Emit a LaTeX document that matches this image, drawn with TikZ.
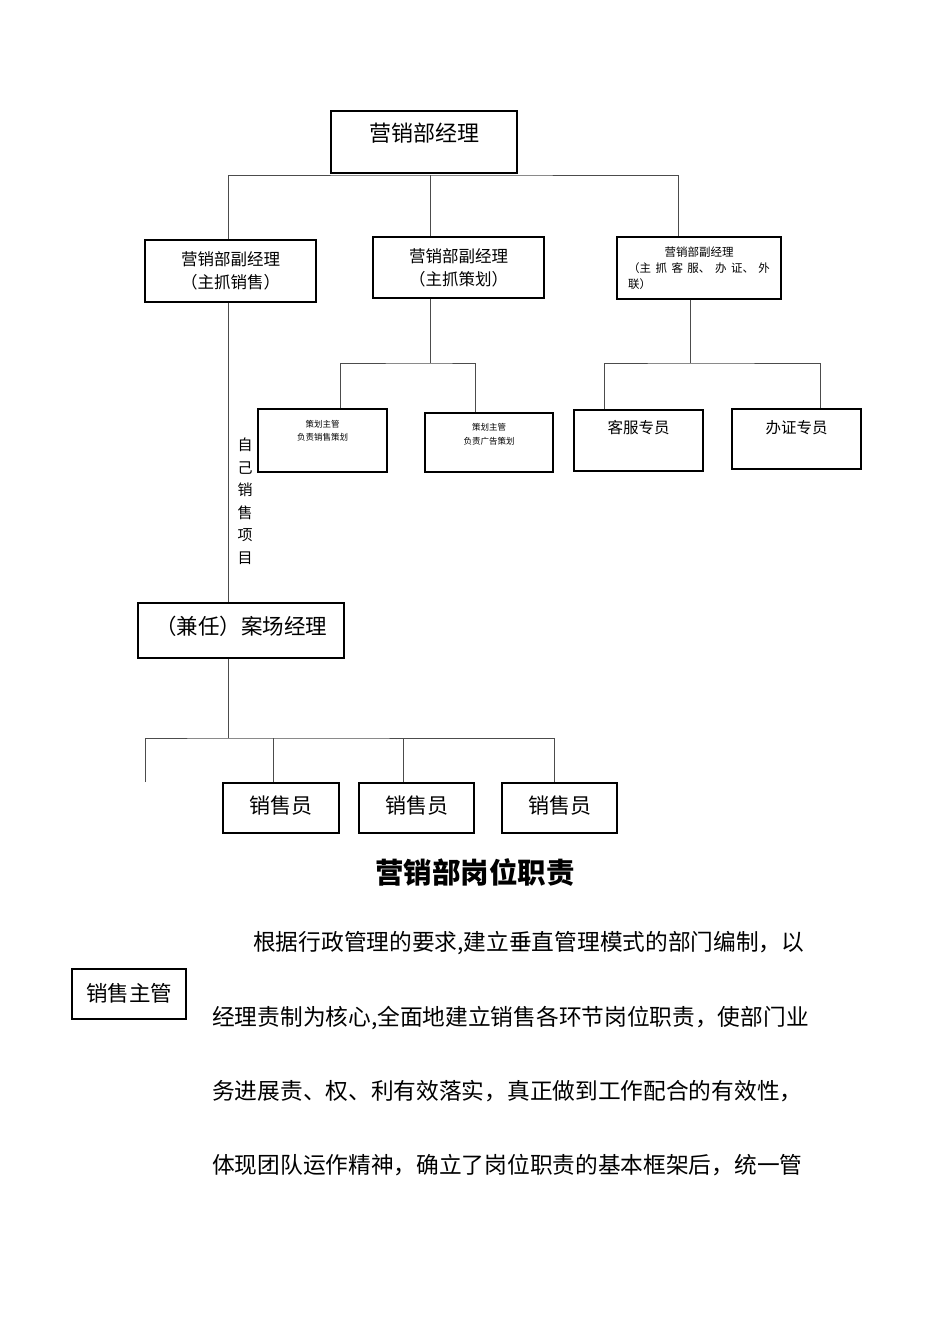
\documentclass[tikz,border=0pt]{standalone}
\usepackage{fontspec}
\setmainfont{Noto Sans CJK SC}
\usetikzlibrary{positioning}
\XeTeXlinebreaklocale "zh"
\XeTeXlinebreakskip=0pt plus 3pt minus 1pt
\newcommand\fsz[2]{\fontsize{#1}{#2}\selectfont}
\tikzset{
    box/.style={rectangle, draw, line width=1.2pt, inner sep=0pt, align=center},
    link/.style={draw=black!70, line width=0.8pt},
    bodyline/.style={anchor=base west, inner sep=0pt, font=\fsz{22.7}{27}}
}
\begin{document}
\begin{tikzpicture}[x=1pt, y=-1pt]
\useasboundingbox (0,0) rectangle (950,1344);

% Manager
\node[box, minimum width=186pt, text height=30.4pt, text depth=31.6pt, font=\fsz{22}{26}, anchor=base] (gm) at (424,141.4) {营销部经理};

% Deputies
\node[box, minimum width=171pt, minimum height=62pt, font=\fsz{16.5}{23}] (vpsales) at (230.5,271) {营销部副经理\\（主抓销售）};
\node[box, minimum width=171pt, minimum height=61pt, font=\fsz{16.5}{23}] (vpplan) at (458.5,267.5) {营销部副经理\\（主抓策划）};
\node[box, minimum width=164pt, minimum height=62pt, text width=142pt, align=justify, font=\fsz{11.5}{16}] (vpserv) at (699,268) {\noindent\hfil 营销部副经理\hfil\break （主抓客服、办证、外\linebreak 联）};

% Planning staff
\node[box, minimum width=129pt, text height=31.2pt, text depth=31.8pt, font=\fsz{8.5}{13}, anchor=base] (plan1) at (322.5,440.2) {策划主管\\负责销售策划};
\node[box, minimum width=128pt, text height=31.2pt, text depth=27.8pt, font=\fsz{8.5}{14}, anchor=base] (plan2) at (489,444.2) {策划主管\\负责广告策划};

% Service staff
\node[box, minimum width=129pt, text height=23.9pt, text depth=37.1pt, font=\fsz{15.5}{18}, anchor=base] (service) at (638.5,433.9) {客服专员};
\node[box, minimum width=129pt, text height=24.9pt, text depth=35.1pt, font=\fsz{15.5}{18}, anchor=base] (license) at (796.5,433.9) {办证专员};

% Site manager
\node[align=center, font=\fsz{15}{22.5}, inner sep=0pt] (ownproj) at (245,501) {自\\己\\销\\售\\项\\目};
\node[box, minimum width=206pt, text height=31pt, text depth=24pt, font=\fsz{21.5}{25}, anchor=base] (site) at (241,634) {（兼任）案场经理};

% Salesmen
\node[box, minimum width=116pt, text height=30pt, text depth=20pt, font=\fsz{21}{25}, anchor=base] (sale1) at (281,813) {销售员};
\node[box, minimum width=115pt, text height=30pt, text depth=20pt, font=\fsz{21}{25}, anchor=base] (sale2) at (416.5,813) {销售员};
\node[box, minimum width=115pt, text height=30pt, text depth=20pt, font=\fsz{21}{25}, anchor=base] (sale3) at (559.5,813) {销售员};

% Connectors
\coordinate (bus1) at (430,175);
\draw[link] ([xshift=-2.5pt]vpsales.north) |- (bus1) -| ([xshift=-21pt]vpserv.north);
\draw[link] (bus1) -- (bus1 |- vpplan.north);

\coordinate (bus2) at (430,363);
\draw[link] (bus2 |- vpplan.south) -- (bus2);
\draw[link] ([xshift=17.5pt]plan1.north) |- (bus2) -| ([xshift=-14pt]plan2.north);

\coordinate (bus3) at (690,363);
\draw[link] (bus3 |- vpserv.south) -- (bus3);
\draw[link] ([xshift=-34.5pt]service.north) |- (bus3) -| ([xshift=23.5pt]license.north);

\draw[link] ([xshift=-2.5pt]vpsales.south) -- ([xshift=-13pt]site.north);

\coordinate (bus4) at (228,738);
\coordinate (stub) at (145,782);
\draw[link] ([xshift=-13pt]site.south) -- (bus4);
\draw[link] (stub) |- (bus4) -| ([xshift=-5.5pt]sale3.north);
\draw[link] ([xshift=-8pt]sale1.north) -- ([xshift=-8pt]sale1.north |- bus4);
\draw[link] ([xshift=-13.5pt]sale2.north) -- ([xshift=-13.5pt]sale2.north |- bus4);

% Duties text
\node[font=\fsz{28.5}{32}\bfseries] (title) at (475,873) {营销部岗位职责};
\node[box, minimum width=114pt, text height=32.2pt, text depth=17.8pt, font=\fsz{21.5}{25}, anchor=base] (salesmgr) at (129,1001.2) {销售主管};

\node[bodyline] (body1) at (253,950.6) {根据行政管理的要求,建立垂直管理模式的部门编制，以};
\node[bodyline] (body2) at (212,1025.6) {经理责制为核心,全面地建立销售各环节岗位职责，使部门业};
\node[bodyline] (body3) at (212,1099.6) {务进展责、权、利有效落实，真正做到工作配合的有效性，};
\node[bodyline] (body4) at (212,1173.6) {体现团队运作精神，确立了岗位职责的基本框架后，统一管};

\end{tikzpicture}
\end{document}
